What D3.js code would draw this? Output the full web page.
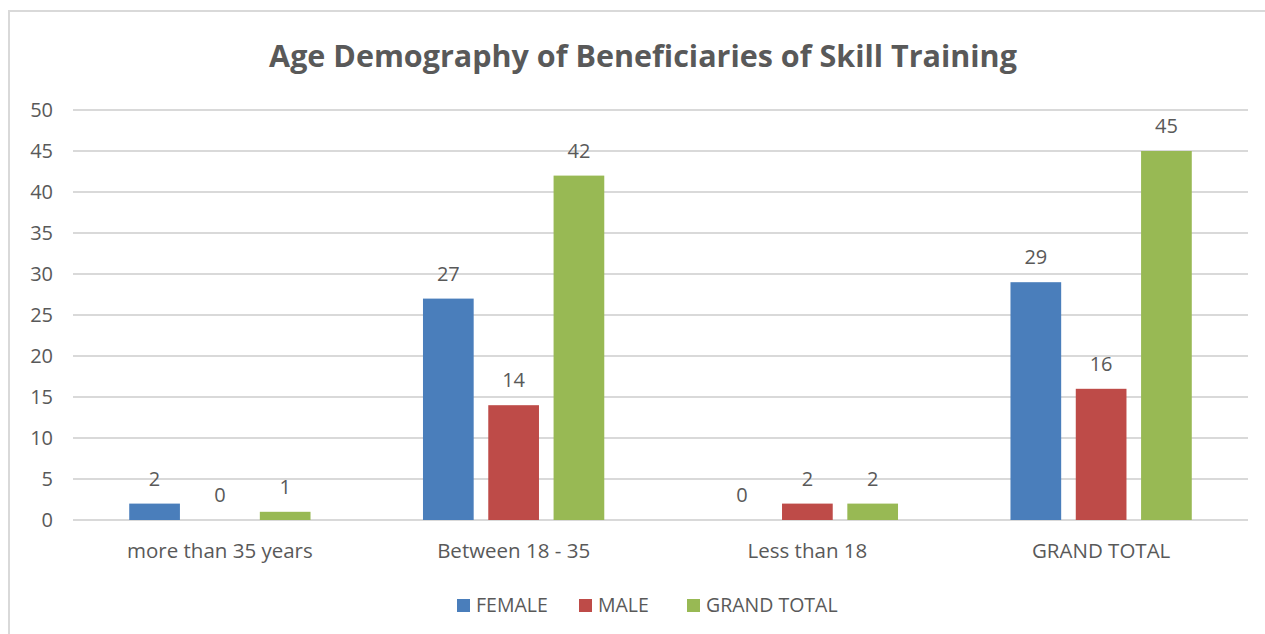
<!doctype html>
<html>

<head>
    <style>
        body {
            margin: 0;
            background: #fff;
        }

        text {
            font-family: "Open Sans", sans-serif;
            fill: #595959;
        }

        .grid line {
            stroke: #d9d9d9;
            stroke-width: 2px;
        }

        .axis path,
        .axis line {
            display: none;
        }
    </style>
    <script src="https://d3js.org/d3.v7.min.js"></script>
</head>

<body>
    <script>
        const categories = ["more than 35 years", "Between 18 - 35", "Less than 18", "GRAND TOTAL"]
        const seriesNames = ["FEMALE", "MALE", "GRAND TOTAL"]
        const female = [2, 27, 0, 29]
        const male = [0, 14, 2, 16]
        const grandTotal = [1, 42, 2, 45]
        const yTicks = [0, 5, 10, 15, 20, 25, 30, 35, 40, 45, 50]
        const colors = ["#4a7ebb", "#be4b48", "#98b954"]

        const seriesValues = [female, male, grandTotal]
        const fs = 20

        const svg = d3.select("body").append("svg")
            .attr("width", 1265)
            .attr("height", 634)

        // chart border (only top and left visible in the picture)
        svg.append("rect")
            .attr("x", 9).attr("y", 11)
            .attr("width", 1270).attr("height", 640)
            .attr("fill", "none")
            .attr("stroke", "#d9d9d9")
            .attr("stroke-width", 2)

        const plotLeft = 73, plotRight = 1248, plotTop = 110, plotBottom = 520

        const x = d3.scaleBand().domain(categories).range([plotLeft, plotRight])
        const y = d3.scaleLinear().domain([0, 50]).range([plotBottom, plotTop])

        // inner scale for series inside a group
        const barW = 50.7, gap = 14.6
        const xs = d3.scaleOrdinal().domain(seriesNames)
            .range(seriesNames.map((d, i) => i * (barW + gap)))
        const groupW = 3 * barW + 2 * gap

        svg.append("text")
            .attr("x", 643).attr("y", 67)
            .attr("text-anchor", "middle")
            .attr("font-size", 30.5)
            .attr("font-weight", "bold")
            .text("Age Demography of Beneficiaries of Skill Training")

        // gridlines
        svg.append("g").attr("class", "grid")
            .selectAll("line")
            .data(yTicks)
            .enter()
            .append("line")
            .attr("x1", plotLeft).attr("x2", plotRight)
            .attr("y1", d => y(d)).attr("y2", d => y(d))

        // y axis labels
        svg.append("g").attr("class", "axis")
            .attr("transform", `translate(${plotLeft - 20},0)`)
            .call(d3.axisLeft(y).tickValues(yTicks).tickSize(0).tickPadding(0))
            .call(g => g.selectAll("text")
                .attr("font-size", fs)
                .attr("fill", "#595959")
                .style("font-family", "'Open Sans', sans-serif"))

        // x axis labels
        svg.append("g").attr("class", "axis")
            .attr("transform", `translate(0,${plotBottom})`)
            .call(d3.axisBottom(x).tickSize(0).tickPadding(23))
            .call(g => g.selectAll("text")
                .attr("font-size", 20.5)
                .attr("fill", "#595959")
                .style("font-family", "'Open Sans', sans-serif"))

        const barData = []
        categories.forEach((c, ci) => {
            seriesNames.forEach((s, si) => {
                barData.push({ cat: c, series: s, value: seriesValues[si][ci], color: colors[si] })
            })
        })

        const bx = d => x(d.cat) + (x.bandwidth() - groupW) / 2 + xs(d.series)

        svg.append("g")
            .selectAll("rect")
            .data(barData)
            .enter()
            .append("rect")
            .attr("x", bx)
            .attr("y", d => y(d.value))
            .attr("width", barW)
            .attr("height", d => y(0) - y(d.value))
            .attr("fill", d => d.color)

        svg.append("g")
            .selectAll("text")
            .data(barData)
            .enter()
            .append("text")
            .attr("x", d => bx(d) + barW / 2)
            .attr("y", d => y(d.value) - 18)
            .attr("text-anchor", "middle")
            .attr("font-size", fs)
            .text(d => d.value)

        // legend
        const legendX = [457, 579, 687]
        const legend = svg.append("g")
            .selectAll("g")
            .data(seriesNames)
            .enter()
            .append("g")
            .attr("transform", (d, i) => `translate(${legendX[i]},599)`)
        legend.append("rect")
            .attr("width", 13).attr("height", 13)
            .attr("fill", (d, i) => colors[i])
        legend.append("text")
            .attr("x", 19).attr("y", 13)
            .attr("font-size", 19.5)
            .text(d => d)
    </script>
</body>

</html>
